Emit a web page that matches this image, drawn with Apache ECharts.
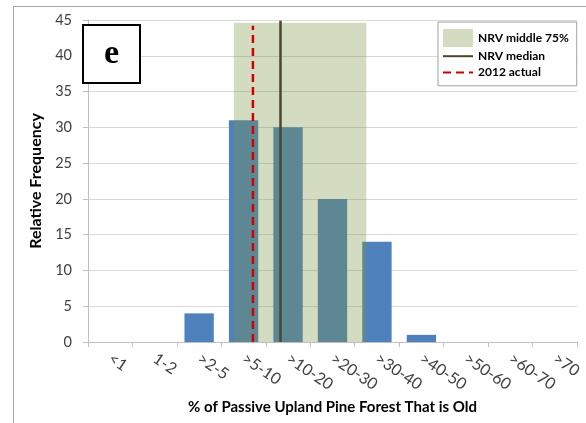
<!DOCTYPE html>
<html>
<head>
<meta charset="utf-8">
<script src="https://cdn.jsdelivr.net/npm/echarts@6/dist/echarts.min.js"></script>
<style>html,body{margin:0;padding:0;background:#fff}#c{width:586px;height:423px}</style>
</head>
<body>
<div id="c"></div>
<script>
// ---- data ----
const categories = ['<1', '1-2', '>2-5', '>5-10', '>10-20', '>20-30', '>30-40', '>40-50', '>50-60', '>60-70', '>70'];
const frequency = [0, 0, 4, 31, 30, 20, 14, 1, 0, 0, 0];
// NRV values expressed in category-position units (0 = left edge of "<1", 11 = right edge of ">70")
const nrvMiddle75 = [3.28, 6.26];
const nrvMiddle75Top = 44.6;
const nrvMedian = 4.33;
const nrvMedianTop = 44.9;
const actual2012 = 3.71;
const actual2012Top = 44.2;
const yTicks = { min: 0, max: 45, interval: 5 };

const chart = echarts.init(document.getElementById('c'), null, { renderer: 'canvas' });
const axisGray = '#bfbfbf';
const option = {
  animation: false,
  backgroundColor: '#fff',
  textStyle: { fontFamily: 'Lato' },
  graphic: [{
    type: 'rect', z: -10, silent: true,
    shape: { x: 13.5, y: 6.5, width: 640, height: 520 },
    style: { fill: 'none', stroke: '#a6a6a6', lineWidth: 1 }
  }],
  title: {
    text: 'e', left: 83, top: 25,
    padding: [12, 21, 12, 21],
    borderColor: '#000', borderWidth: 2, backgroundColor: '#fff',
    textStyle: { fontFamily: 'Liberation Serif', fontWeight: 'bold', fontSize: 34, lineHeight: 34, color: '#000' }
  },
  legend: {
    orient: 'vertical', left: 438, top: 22,
    padding: [7, 8, 6, 4],
    itemWidth: 30, itemHeight: 18, itemGap: 2,
    borderColor: '#a0a0a0', borderWidth: 1, backgroundColor: '#fff',
    textStyle: { fontFamily: 'Lato', fontWeight: 'bold', fontSize: 12, color: '#000' },
    data: [
      { name: 'NRV middle 75%', icon: 'rect' },
      { name: 'NRV median', itemStyle: { opacity: 0 } },
      { name: '2012 actual', itemStyle: { opacity: 0 } }
    ]
  },
  grid: { left: 88, right: 9, top: 20, bottom: 81 },
  xAxis: [{
    type: 'category', data: categories,
    axisLine: { lineStyle: { color: axisGray } },
    axisTick: { show: true, length: 5, lineStyle: { color: axisGray } },
    axisLabel: { rotate: -34, margin: 15, interval: 0, color: '#404040', fontSize: 16 },
    name: '% of Passive Upland Pine Forest That is Old',
    nameLocation: 'middle', nameGap: 57,
    nameTextStyle: { fontWeight: 'bold', fontSize: 15, color: '#000' }
  }, {
    type: 'value', min: 0, max: categories.length, show: false
  }],
  yAxis: {
    type: 'value', min: yTicks.min, max: yTicks.max, interval: yTicks.interval,
    axisLine: { show: true, lineStyle: { color: axisGray } },
    axisTick: { show: true, length: 5, lineStyle: { color: axisGray } },
    splitLine: { lineStyle: { color: '#d9d9d9' } },
    axisLabel: { margin: 16, color: '#404040', fontSize: 14.5 },
    name: 'Relative Frequency', nameLocation: 'middle', nameGap: 44,
    nameTextStyle: { fontWeight: 'bold', fontSize: 16, color: '#000' }
  },
  series: [{
    type: 'bar', name: 'Frequency', data: frequency,
    barWidth: '66%', z: 2,
    itemStyle: { color: '#4f81bd' }
  }, {
    type: 'custom', name: 'NRV middle 75%',
    xAxisIndex: 1, yAxisIndex: 0, z: 3, silent: true,
    itemStyle: { color: 'rgba(121,149,64,0.33)' },
    data: [[nrvMiddle75[0], nrvMiddle75[1], nrvMiddle75Top]],
    encode: { x: [0, 1], y: 2 },
    renderItem: function (params, api) {
      const p0 = api.coord([api.value(0), api.value(2)]);
      const p1 = api.coord([api.value(1), 0]);
      return {
        type: 'rect',
        shape: { x: p0[0], y: p0[1], width: p1[0] - p0[0], height: p1[1] - p0[1] },
        style: { fill: api.visual('color') }
      };
    }
  }, {
    type: 'line', name: 'NRV median',
    xAxisIndex: 1, yAxisIndex: 0, z: 4, silent: true,
    data: [[nrvMedian, 0], [nrvMedian, nrvMedianTop]],
    symbol: 'none',
    itemStyle: { color: '#4a4630' },
    lineStyle: { color: '#4a4630', width: 2.5 }
  }, {
    type: 'line', name: '2012 actual',
    xAxisIndex: 1, yAxisIndex: 0, z: 5, silent: true,
    data: [[actual2012, 0], [actual2012, actual2012Top]],
    symbol: 'none',
    itemStyle: { color: '#d00000' },
    lineStyle: { color: '#d00000', width: 2.5, type: [8, 5] }
  }]
};
chart.setOption(option);
</script>
</body>
</html>
